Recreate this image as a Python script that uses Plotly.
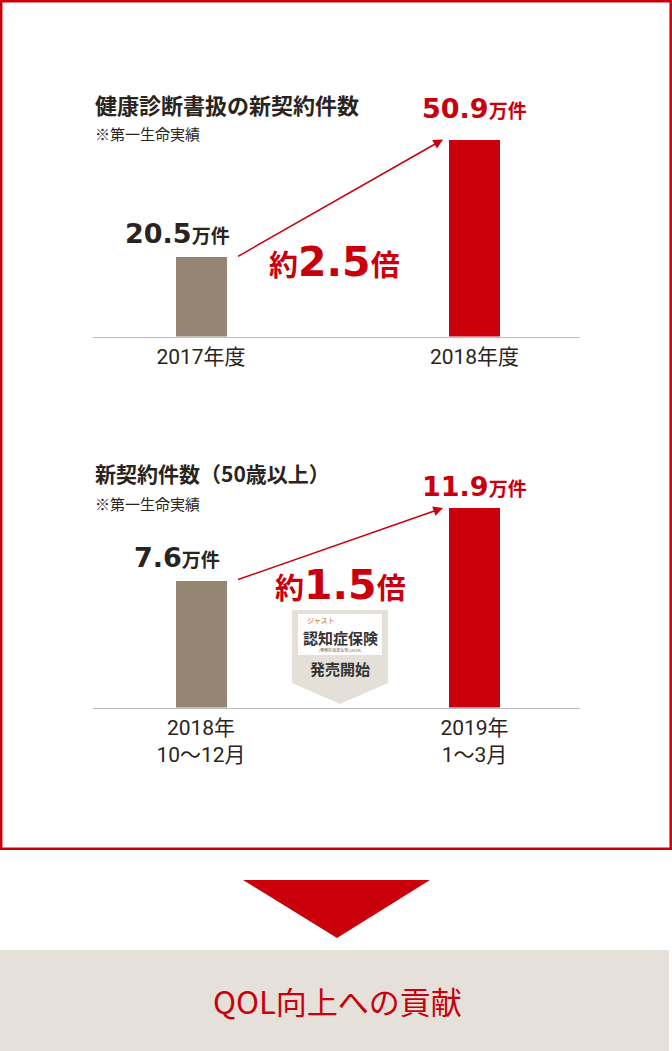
import plotly.graph_objects as go

# ---------------- data ----------------
periods_a = ["2017年度", "2018年度"]
contracts_a = [20.5, 50.9]          # 万件
periods_b = ["2018年<br>10〜12月", "2019年<br>1〜3月"]
contracts_b = [7.6, 11.9]           # 万件
ratio_a = "2.5"
ratio_b = "1.5"
title_a = "健康診断書扱の新契約件数"
title_b = "新契約件数（50歳以上）"
note = "※第一生命実績"
footer = "QOL向上への貢献"

# ---------------- styles ----------------
W, H = 672, 1051
GRAY_BAR = "#958573"
RED = "#c9000c"
TXT = "#2a2421"
JP = "Noto Sans CJK JP"
NUM = "DejaVu Sans, Noto Sans CJK JP"
TICK = "Roboto, Noto Sans CJK JP"
bar_colors = [GRAY_BAR, RED]


def px(x):
    return x / W


def py(y):
    return 1 - y / H


fig = go.Figure()
fig.add_trace(go.Bar(x=[0, 1], y=contracts_a, marker=dict(color=bar_colors, line_width=0),
                     width=0.1865, xaxis="x", yaxis="y", hoverinfo="skip"))
fig.add_trace(go.Bar(x=[0, 1], y=contracts_b, marker=dict(color=bar_colors, line_width=0),
                     width=0.1865, xaxis="x2", yaxis="y2", hoverinfo="skip"))

xr = [-0.3949, 1.3857]
xdom = [px(93), px(580)]
common_x = dict(range=xr, domain=xdom, showgrid=False, zeroline=False, showline=True,
                linecolor="#bdbdbd", linewidth=1, ticks="", tickmode="array", tickvals=[0, 1],
                tickfont=dict(family=TICK, size=21, color=TXT), fixedrange=True)
fig.update_layout(
    xaxis=dict(**common_x, ticktext=periods_a, anchor="y", ticklabelstandoff=1),
    yaxis=dict(domain=[py(336.5), py(96)], range=[0, 240.5 / 3.87], visible=False, fixedrange=True),
    xaxis2=dict(**common_x, ticktext=periods_b, anchor="y2", ticklabelstandoff=1),
    yaxis2=dict(domain=[py(707.5), py(467.5)], range=[0, 240 / 16.77], visible=False, fixedrange=True),
)

ann = []


def value_label(xref, yref, xi, val, color, xshift, yshift):
    ann.append(dict(xref=xref, yref=yref, x=xi, y=val, xanchor="center", yanchor="bottom",
                    xshift=xshift, yshift=yshift, showarrow=False,
                    text=f"<b>{val}</b><span style='font-size:19px'><b>万件</b></span>",
                    font=dict(family=NUM, size=27, color=color)))


value_label("x", "y", 0, contracts_a[0], TXT, -24, 6)
value_label("x", "y", 1, contracts_a[1], RED, 0, 14)
value_label("x2", "y2", 0, contracts_b[0], TXT, -24, 5)
value_label("x2", "y2", 1, contracts_b[1], RED, 0, 4)

# growth arrows
for xa, ya, vals in (("x", "y", contracts_a), ("x2", "y2", contracts_b)):
    ann.append(dict(xref=xa, yref=ya, axref=xa, ayref=ya, x=0.885, y=vals[1], ax=0.13, ay=vals[0],
                    showarrow=True, arrowhead=2, arrowsize=1.3, arrowwidth=1.5, arrowcolor=RED,
                    text="", standoff=0, startstandoff=0))

# ratio labels
for xa, ya, xv, yv, r in (("x", "y", 0.487, 19.3, ratio_a), ("x2", "y2", 0.51, 7.3, ratio_b)):
    ann.append(dict(xref=xa, yref=ya, x=xv, y=yv, xanchor="center", yanchor="middle",
                    showarrow=False,
                    text=f"<span style='font-family:{JP};font-size:29px'><b>約</b></span><b>{r}</b>"
                         f"<span style='font-family:{JP};font-size:29px'><b>倍</b></span>",
                    font=dict(family=NUM, size=41, color=RED)))

# titles
for ty, ny, t, fs in ((104, 133, title_a, 22), (473, 503, title_b, 21)):
    ann.append(dict(xref="paper", yref="paper", x=px(93), y=py(ty), xanchor="left", yanchor="middle",
                    showarrow=False, text=f"<b>{t}</b>", font=dict(family=JP, size=fs, color=TXT)))
    ann.append(dict(xref="paper", yref="paper", x=px(93), y=py(ny), xanchor="left", yanchor="middle",
                    showarrow=False, text=note, font=dict(family=JP, size=15, color=TXT)))

# badge texts
ann.append(dict(xref="paper", yref="paper", x=px(305), y=py(620), xanchor="left", yanchor="middle",
                showarrow=False, text="ジャスト", font=dict(family=JP, size=7, color="#d0603a")))
ann.append(dict(xref="paper", yref="paper", x=px(340), y=py(637), xanchor="center", yanchor="middle",
                showarrow=False, text="<b>認知症保険</b>", font=dict(family=JP, size=15, color="#333")))
ann.append(dict(xref="paper", yref="paper", x=px(340), y=py(650), xanchor="center", yanchor="middle",
                showarrow=False, text="(無解約返戻金型)(2019)", font=dict(family=JP, size=4, color="#666")))
ann.append(dict(xref="paper", yref="paper", x=px(340), y=py(668), xanchor="center", yanchor="middle",
                showarrow=False, text="<b>発売開始</b>", font=dict(family=JP, size=15, color="#333")))

# footer
ann.append(dict(xref="paper", yref="paper", x=px(337), y=py(1000), xanchor="center", yanchor="middle",
                showarrow=False, text=footer, font=dict(family=JP, size=31, color=RED)))

shapes = [
    # red frame
    dict(type="rect", xref="paper", yref="paper", x0=px(1.2), x1=px(670.7), y0=py(848.7), y1=py(1.2),
         line=dict(color=RED, width=2.5), fillcolor="rgba(0,0,0,0)", layer="below"),
    # badge
    dict(type="path", xref="paper", yref="paper", layer="above", line_width=0, fillcolor="#e4e0d9",
         path=f"M {px(292)} {py(610)} L {px(388)} {py(610)} L {px(388)} {py(683)} "
              f"L {px(340)} {py(704)} L {px(292)} {py(683)} Z"),
    dict(type="rect", xref="paper", yref="paper", layer="above", line_width=0, fillcolor="#ffffff",
         x0=px(298), x1=px(382), y0=py(655), y1=py(614)),
    # down arrow
    dict(type="path", xref="paper", yref="paper", line_width=0, fillcolor=RED,
         path=f"M {px(243)} {py(880)} L {px(430)} {py(880)} L {px(337)} {py(938)} Z"),
    # footer band
    dict(type="rect", xref="paper", yref="paper", line_width=0, fillcolor="#e5e0d9",
         x0=px(0), x1=px(669), y0=py(1051), y1=py(950)),
]

fig.update_layout(width=W, height=H, margin=dict(l=0, r=0, t=0, b=0), showlegend=False,
                  paper_bgcolor="white", plot_bgcolor="rgba(0,0,0,0)", bargap=0,
                  annotations=ann, shapes=shapes)
fig.write_html("out.html", config=dict(displayModeBar=False))
